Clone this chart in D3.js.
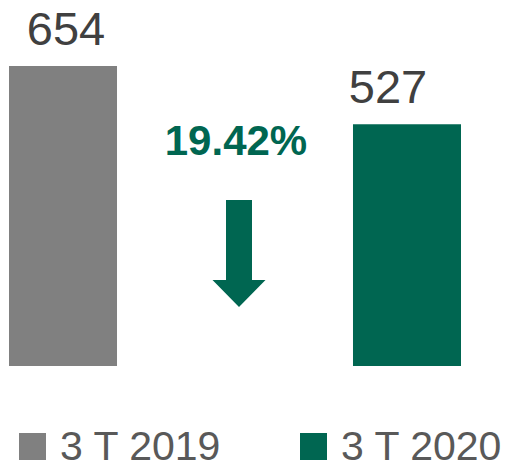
<!DOCTYPE html>
<html>
<head>
<meta charset="utf-8">
<script src="https://cdn.jsdelivr.net/npm/d3@7"></script>
<style>
  body { margin: 0; background: #fff; }
  text { font-family: "Liberation Sans", Arial, sans-serif; }
</style>
</head>
<body>
<script>
// data
var categories = ["3 T 2019", "3 T 2020"];
var values = [654, 527];
var colours = ["#808080", "#006651"];
var labelOffsets = [3, -19]; // value labels sit a bit off bar centre in the original
var changeLabel = "19.42%";

var width = 506, height = 465;
var baseline = 366;

var svg = d3.select("body").append("svg")
    .attr("width", width)
    .attr("height", height);

var x = d3.scaleBand()
    .domain(categories)
    .range([9, 461])
    .paddingInner(0.686)
    .paddingOuter(0);

var y = d3.scaleLinear()
    .domain([0, 654])
    .range([baseline, 66]);

// bars
svg.selectAll("rect.bar")
    .data(values)
    .enter().append("rect")
    .attr("class", "bar")
    .attr("x", function(d, i) { return x(categories[i]); })
    .attr("y", function(d) { return y(d); })
    .attr("width", x.bandwidth())
    .attr("height", function(d) { return y(0) - y(d); })
    .attr("fill", function(d, i) { return colours[i]; });

// value labels
svg.selectAll("text.value")
    .data(values)
    .enter().append("text")
    .attr("class", "value")
    .attr("x", function(d, i) { return x(categories[i]) + x.bandwidth() / 2 + labelOffsets[i]; })
    .attr("y", function(d) { return y(d) - 21; })
    .attr("text-anchor", "middle")
    .attr("font-size", "47px")
    .attr("fill", "#404040")
    .text(function(d) { return d; });

// change annotation between the bars
var midX = (x(categories[0]) + x.bandwidth() + x(categories[1])) / 2;

svg.append("text")
    .attr("x", midX + 1)
    .attr("y", 155)
    .attr("text-anchor", "middle")
    .attr("font-size", "42px")
    .attr("font-weight", "bold")
    .attr("fill", colours[1])
    .text(changeLabel);

var ax = midX + 4;
var arrow = d3.path();
arrow.moveTo(ax - 13, 200);
arrow.lineTo(ax + 13, 200);
arrow.lineTo(ax + 13, 280);
arrow.lineTo(ax + 26.5, 280);
arrow.lineTo(ax, 307);
arrow.lineTo(ax - 26.5, 280);
arrow.lineTo(ax - 13, 280);
arrow.closePath();

svg.append("path")
    .attr("d", arrow.toString())
    .attr("fill", colours[1]);

// legend
var legendX = [19, 300];
var legend = svg.selectAll("g.legend")
    .data(categories)
    .enter().append("g")
    .attr("class", "legend")
    .attr("transform", function(d, i) { return "translate(" + legendX[i] + ",433)"; });

legend.append("rect")
    .attr("width", 27)
    .attr("height", 27)
    .attr("fill", function(d, i) { return colours[i]; });

legend.append("text")
    .attr("x", 41)
    .attr("y", 27)
    .attr("font-size", "41px")
    .attr("fill", "#595959")
    .text(function(d) { return d; });
</script>
</body>
</html>
